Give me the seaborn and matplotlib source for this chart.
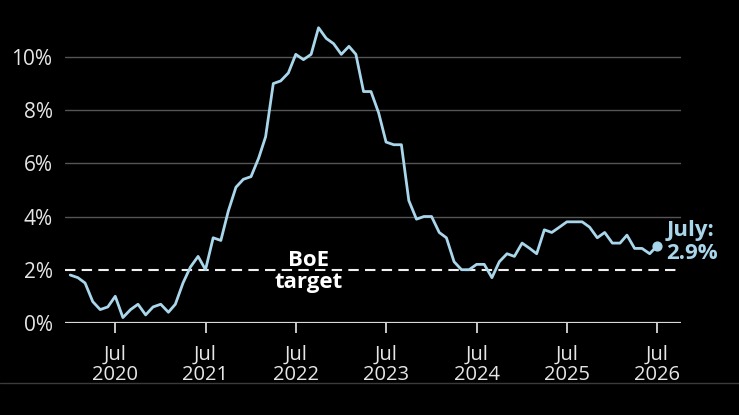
import matplotlib
matplotlib.use("Agg")
import matplotlib.pyplot as plt
from matplotlib.lines import Line2D
import seaborn as sns
import pandas as pd

# Monthly CPI inflation (%), Jan 2020 to Jul 2026
months = pd.date_range("2020-01-01", "2026-07-01", freq="MS")
cpi = [
	1.8, 1.7, 1.5, 0.8, 0.5, 0.6, 1.0, 0.2, 0.5, 0.7, 0.3, 0.6,
	0.7, 0.4, 0.7, 1.5, 2.1, 2.5, 2.0, 3.2, 3.1, 4.2, 5.1, 5.4,
	5.5, 6.2, 7.0, 9.0, 9.1, 9.4, 10.1, 9.9, 10.1, 11.1, 10.7, 10.5,
	10.1, 10.4, 10.1, 8.7, 8.7, 7.9, 6.8, 6.7, 6.7, 4.6, 3.9, 4.0,
	4.0, 3.4, 3.2, 2.3, 2.0, 2.0, 2.2, 2.2, 1.7, 2.3, 2.6, 2.5,
	3.0, 2.8, 2.6, 3.5, 3.4, 3.6, 3.8, 3.8, 3.8, 3.6, 3.2, 3.4,
	3.0, 3.0, 3.3, 2.8, 2.8, 2.6, 2.9,
]
target = 2.0
yticks = [0, 2, 4, 6, 8, 10]
tick_years = list(range(2020, 2027))

line_col = "#a9d6ea"
bg = "#000000"
txt_col = "#e6e6e6"

df = pd.DataFrame({"month": months, "cpi": cpi})

sns.set_theme(style="dark")
plt.rcParams["font.family"] = ["Open Sans", "DejaVu Sans"]

fig = plt.figure(figsize=(7.39, 4.15), dpi=100, facecolor=bg)
ax = fig.add_axes([0.088, 0.222, 0.834, 0.74])
ax.set_facecolor(bg)

# gridlines (2% is drawn as the dashed target line)
for v in yticks[2:]:
	ax.axhline(v, color="#555555", lw=1.0, zorder=1)
ax.axhline(0, color="#d9d9d9", lw=1.6, zorder=2)
ax.axhline(target, color="#f0f0f0", lw=1.5, dashes=(5, 3), zorder=2)

sns.lineplot(data=df, x="month", y="cpi", ax=ax, color=line_col, lw=2.0, zorder=3)
ax.scatter([df["month"].iloc[-1]], [df["cpi"].iloc[-1]], s=40, color=line_col, zorder=4)

ax.set_xlim(pd.Timestamp("2019-12-11"), pd.Timestamp("2026-10-07"))
ax.set_ylim(0, 11.55)

ax.set_yticks(yticks)
ax.set_yticklabels([f"{v}%" for v in yticks], fontsize=15, color=txt_col)
ax.tick_params(axis="y", length=0, pad=9)

ax.set_xticks([pd.Timestamp(f"{y}-07-01") for y in tick_years])
ax.set_xticklabels([f"Jul\n{y}" for y in tick_years], fontsize=14.5, color=txt_col, linespacing=1.0)
ax.tick_params(axis="x", length=7, width=1.3, color="#d9d9d9", pad=9, bottom=True)

ax.set_xlabel("")
ax.set_ylabel("")
ax.grid(False)
for s in ax.spines.values():
	s.set_visible(False)

ax.text(pd.Timestamp("2022-08-20"), target - 0.07, "BoE\ntarget", ha="center", va="center",
	fontsize=16, fontweight="bold", color="#ffffff", linespacing=1.1, zorder=5)
ax.text(pd.Timestamp("2026-08-08"), 3.05, "July:\n2.9%", ha="left", va="center",
	fontsize=16, fontweight="bold", color=line_col, linespacing=1.1, zorder=5)

fig.add_artist(Line2D([0, 1], [0.077, 0.077], color="#3a3a3a", lw=1.0, transform=fig.transFigure))

fig.savefig("out.png", dpi=100, facecolor=bg)
